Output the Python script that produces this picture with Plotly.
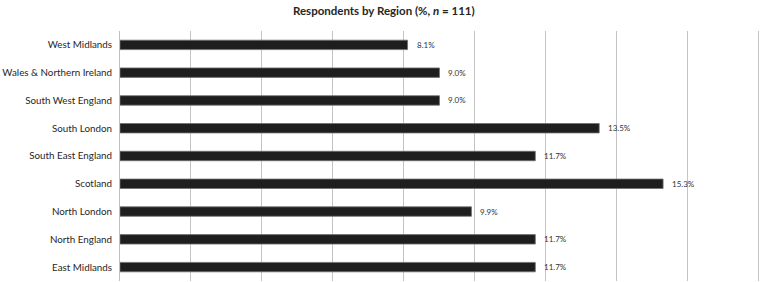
import plotly.graph_objects as go

regions = ["West Midlands", "Wales & Northern Ireland", "South West England", "South London",
           "South East England", "Scotland", "North London", "North England", "East Midlands"]
percent = [8.1, 9.0, 9.0, 13.5, 11.7, 15.3, 9.9, 11.7, 11.7]
labels = [f"{v:.1f}%" for v in percent]

fig = go.Figure()
fig.add_trace(go.Bar(
    x=percent, y=regions, orientation="h",
    marker=dict(color="#1e1e1e", line=dict(color="#6e6e6e", width=0.8)),
    hoverinfo="skip",
))

for v, r, t in zip(percent, regions, labels):
    fig.add_annotation(x=v, y=r, xref="x", yref="y", text=t, showarrow=False,
                       xanchor="left", yanchor="middle", xshift=7,
                       font=dict(family="Lato, Liberation Sans, sans-serif", size=8, color="#333333"))

fig.update_layout(
    width=760, height=282,
    margin=dict(l=120, r=0, t=31, b=1),
    paper_bgcolor="white", plot_bgcolor="white",
    bargap=0.66,
    showlegend=False,
    title=dict(text="<b>Respondents by Region (%, <i>n</i> = 111)</b>",
               x=0.505, xref="container", xanchor="center",
               y=0.975, yref="container", yanchor="top",
               font=dict(family="Lato, Liberation Sans, sans-serif", size=11.5, color="#262626")),
    font=dict(family="Lato, Liberation Sans, sans-serif", size=9.8, color="#262626"),
)
fig.update_xaxes(range=[0, 18.03], dtick=2, tick0=0, showticklabels=False,
                 showgrid=True, gridcolor="#c4c4c4", gridwidth=1, zeroline=False,
                 showline=False, fixedrange=True, automargin=False)
fig.update_yaxes(autorange="reversed", showline=True, linecolor="#bfbfbf", linewidth=1,
                 ticks="", ticklabelstandoff=5, showgrid=False, automargin=False,
                 tickfont=dict(family="Lato, Liberation Sans, sans-serif", size=9.8, color="#262626"),
                 fixedrange=True)

fig.write_html("out.html")
